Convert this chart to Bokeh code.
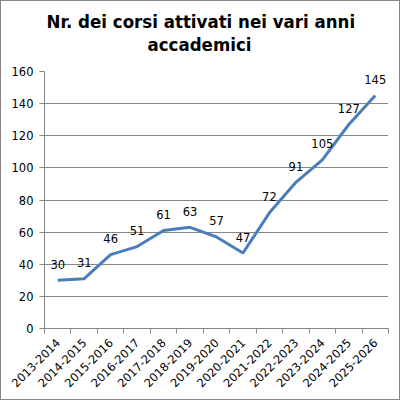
from bokeh.plotting import figure
from bokeh.models import Range1d, FixedTicker, ColumnDataSource, Title
from bokeh.embed import file_html
from bokeh.resources import INLINE
from bokeh.core.properties import value

years = ["2013-2014", "2014-2015", "2015-2016", "2016-2017", "2017-2018", "2018-2019",
         "2019-2020", "2020-2021", "2021-2022", "2022-2023", "2023-2024", "2024-2025", "2025-2026"]
corsi = [30, 31, 46, 51, 61, 63, 57, 47, 72, 91, 105, 127, 145]
y_ticks = [0, 20, 40, 60, 80, 100, 120, 140, 160]
title_lines = ["Nr. dei corsi attivati nei vari anni", "accademici"]

idx = list(range(len(years)))
src = ColumnDataSource(dict(x=idx, y=corsi, lab=[str(v) for v in corsi]))

GRAY = "#868686"
p = figure(width=400, height=400, output_backend="svg", toolbar_location=None,
           x_range=Range1d(-0.5, len(years) - 0.5), y_range=Range1d(0, 160),
           min_border_left=43, min_border_right=13, min_border_top=70, min_border_bottom=73)
p.title.visible = False
# spacer closest to the frame, then second line, then first line
spacer = Title(text=" ", text_font_size="13px", standoff=0)
t2 = Title(text=title_lines[1], align="left",
           text_font="DejaVu Sans Condensed", text_font_style="bold",
           text_font_size="18.5px", text_color="black", offset=103, standoff=0)
t1 = Title(text=title_lines[0], align="left", text_font="DejaVu Sans Condensed", text_font_style="bold",
           text_font_size="18.5px", text_color="black", offset=2, standoff=0)
p.add_layout(spacer, "above")
p.add_layout(t2, "above")
p.add_layout(t1, "above")
p.outline_line_color = None
p.background_fill_color = "white"
p.border_fill_color = "white"
p.styles = {"border": "1px solid #868686", "box-sizing": "border-box"}

p.xgrid.visible = False
p.ygrid.ticker = FixedTicker(ticks=y_ticks)
p.ygrid.grid_line_color = GRAY
p.ygrid.grid_line_width = 1

p.yaxis.ticker = FixedTicker(ticks=y_ticks)
p.yaxis.axis_line_color = GRAY
p.yaxis.major_tick_line_color = GRAY
p.yaxis.major_tick_in = 0
p.yaxis.major_tick_out = 5
p.yaxis.minor_tick_line_color = None
p.yaxis.major_label_standoff = 6
p.yaxis.major_label_text_font = "DejaVu Sans"
p.yaxis.major_label_text_font_size = "11.5px"
p.yaxis.major_label_text_color = "black"

bounds = [i - 0.5 for i in range(len(years) + 1)]
p.xaxis.ticker = FixedTicker(ticks=idx, minor_ticks=bounds)
p.xaxis.major_label_overrides = {i: y for i, y in enumerate(years)}
p.xaxis.major_label_orientation = 0.785398
p.xaxis.axis_line_color = GRAY
p.xaxis.major_tick_line_color = None
p.xaxis.minor_tick_line_color = GRAY
p.xaxis.minor_tick_in = 0
p.xaxis.minor_tick_out = 5
p.xaxis.major_label_standoff = 6
p.xaxis.major_label_text_font = "DejaVu Sans"
p.xaxis.major_label_text_font_size = "11.5px"
p.xaxis.major_label_text_color = "black"

p.line("x", "y", source=src, line_color="#4A7EBB", line_width=3)
p.text("x", "y", text="lab", source=src, text_align="center", text_baseline="middle",
       y_offset=-16, text_font=value("DejaVu Sans"), text_font_size="11.5px", text_color="black")

open("out.html", "w").write(file_html(p, INLINE))
